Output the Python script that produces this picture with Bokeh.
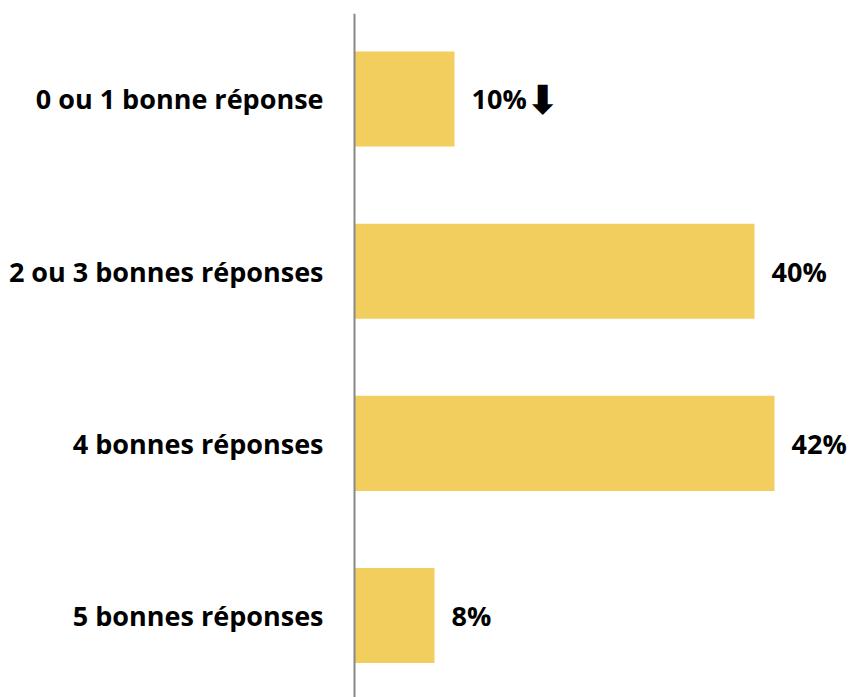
from bokeh.plotting import figure
from bokeh.models import ColumnDataSource, Range1d, Span
from bokeh.core.properties import value
from bokeh.embed import file_html
from bokeh.resources import INLINE

categories = ["0 ou 1 bonne réponse", "2 ou 3 bonnes réponses", "4 bonnes réponses", "5 bonnes réponses"]
values = [10, 40, 42, 8]
value_labels = ["10%", "40%", "42%", "8%"]
trend_arrows = ["⬇", "", "", ""]

pos = list(range(len(categories)))
src = ColumnDataSource(dict(y=pos, v=values, cat=categories, lab=value_labels, arr=trend_arrows,
                            zero=[0]*len(pos), lx=[-3.1]*len(pos)))

p = figure(width=850, height=697, output_backend="svg", toolbar_location=None,
           x_range=Range1d(-35.4, 49.6), y_range=Range1d(3.476, -0.4965),
           min_border_left=0, min_border_right=0, min_border_top=13, min_border_bottom=0)
p.axis.visible = False
p.grid.visible = False
p.outline_line_color = None
p.background_fill_color = "white"

p.hbar(y="y", left="zero", right="v", height=0.552, source=src, fill_color="#F1CE5D", line_color=None)
p.add_layout(Span(location=0, dimension="height", line_color="#888888", line_width=2))

p.text(x="lx", y="y", text="cat", source=src, text_align="right", text_baseline="middle",
       text_font=value("Open Sans"), text_font_style="bold", text_font_size="27px", text_color="black")
p.text(x="v", y="y", text="lab", source=src, text_align="left", text_baseline="middle", x_offset=17,
       text_font=value("Open Sans"), text_font_style="bold", text_font_size="27px", text_color="black")
p.text(x="v", y="y", text="arr", source=src, text_align="center", text_baseline="middle", x_offset=88, y_offset=1,
       text_font=value("DejaVu Sans"), text_font_style="bold", text_font_size="40px", text_color="black")

open("out.html", "w").write(file_html(p, INLINE))
